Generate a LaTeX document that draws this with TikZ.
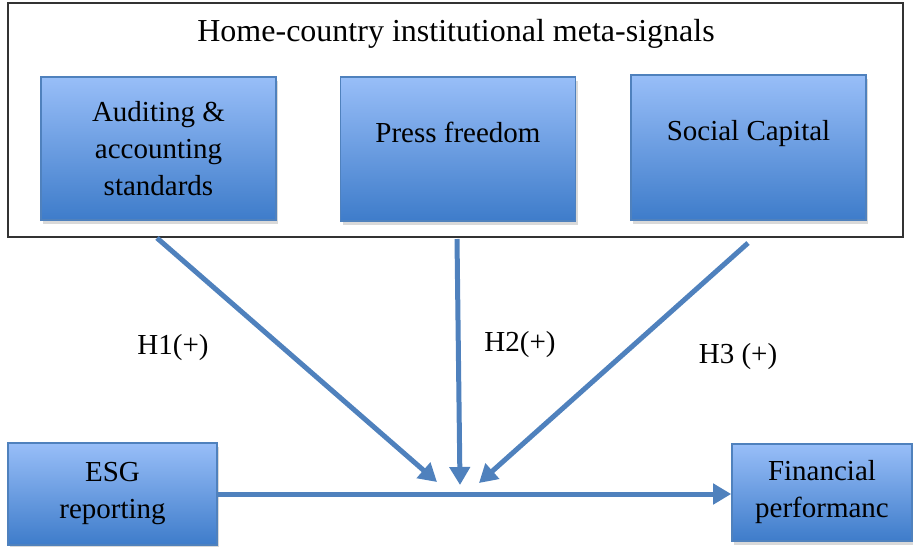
\documentclass[tikz,border=0pt]{standalone}
\usepackage{fontspec}
\setmainfont{Liberation Serif}
\usepackage{tikz}
\usetikzlibrary{arrows.meta, positioning, shadows, calc}
\definecolor{boxtop}{RGB}{152,190,248}
\definecolor{boxbot}{RGB}{62,124,202}
\definecolor{boxline}{RGB}{79,129,189}
\tikzset{
    blk/.style={rectangle, draw=boxline, line width=0.8pt, top color=boxtop, bottom color=boxbot,
      align=center, font=\fontsize{14.5}{18.5}\selectfont, inner sep=0pt,
      drop shadow={shadow xshift=1.2pt, shadow yshift=-2pt, opacity=0.3}},
    link/.style={draw=boxline, line width=2.5pt, -{Triangle[length=9pt, width=10pt]}},
    hyp/.style={font=\fontsize{14.5}{18.5}\selectfont},
}
\begin{document}
\begin{tikzpicture}[x=0.5pt, y=-0.5pt]
    \useasboundingbox (0,0) rectangle (913,546);

    \node[draw=black!80, line width=0.7pt, minimum width=447.5pt, minimum height=117pt] (frame) at (455.5,120) {};
    \node[hyp, font=\fontsize{16}{19}\selectfont] (title) at (456,34) {Home-country institutional meta-signals};

    \node[blk, minimum width=117.5pt, minimum height=71.5pt] (aud) at (158.5,148.5) {Auditing \&\\accounting\\standards};
    \node[blk, minimum width=117.5pt, minimum height=72pt, text depth=17pt] (press) at (458,149) {Press freedom};
    \node[blk, minimum width=117.5pt, minimum height=72.5pt, text depth=17pt] (soc) at (748.5,147.5) {Social Capital};

    \node[blk, minimum width=104.5pt, minimum height=51pt] (esg) at (112.5,494) {ESG\\reporting};
    \node[blk, minimum width=90pt, minimum height=48.5pt] (fin) at (822,492.5) {Financial\\performanc};

    \coordinate (s1) at (157,238);
    \coordinate (s2) at (457,239);
    \coordinate (s3) at (748,243);
    \coordinate (t1) at (437,482);
    \coordinate (t2) at (460,485);
    \coordinate (t3) at (479,483);

    \draw[link] (esg.east) -- (esg.east -| fin.west);
    \draw[link] (s1) -- (t1);
    \draw[link] (s2) -- (t2);
    \draw[link] (s3) -- (t3);

    \node[hyp] (h1) at (173,348) {H1(+)};
    \node[hyp] (h2) at (520,345) {H2(+)};
    \node[hyp] (h3) at (738,357) {H3 (+)};
\end{tikzpicture}
\end{document}
